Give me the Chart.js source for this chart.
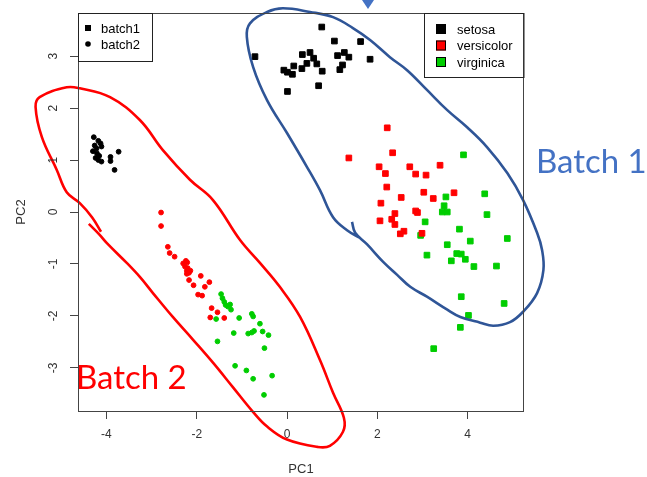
<!DOCTYPE html>
<html>
<head>
<meta charset="utf-8">
<script src="https://cdn.jsdelivr.net/npm/chart.js@4.4.1/dist/chart.umd.min.js"></script>
<style>
  html, body { margin: 0; padding: 0; background: #fff; }
</style>
</head>
<body>
<canvas id="pcaChart" width="647" height="477"></canvas>
<script>
// tick labels
let xTicks = [-4, -2, 0, 2, 4];
let yTicks = [-3, -2, -1, 0, 1, 2, 3];

// legend texts
let batchNames = ['batch1', 'batch2'];
let speciesNames = ['setosa', 'versicolor', 'virginica'];

// batch 1 (squares)  [PC1, PC2]
let b1Setosa = [[0.77,3.56],[1.05,3.29],[1.63,3.28],[-0.71,2.99],[0.34,3.03],[0.51,3.07],[0.59,2.96],[0.44,2.86],
  [0.66,2.85],[0.33,2.76],[0.15,2.81],[-0.07,2.73],[0.01,2.69],[0.12,2.65],[0.78,2.71],[0.70,2.43],[0.01,2.32],
  [1.12,3.01],[1.27,3.07],[1.37,2.98],[1.23,2.83],[1.17,2.74],[1.84,2.94]];
let b1Versicolor = [[2.22,1.62],[1.37,1.04],[2.34,1.14],[2.04,0.87],[2.18,0.74],[2.72,0.87],[2.85,0.73],[3.08,0.71],
  [3.39,0.90],[2.21,0.48],[2.53,0.28],[2.08,0.17],[3.03,0.38],[3.24,0.26],[3.70,0.37],[2.39,-0.03],[2.85,0.02],
  [2.89,-0.01],[2.06,-0.17],[2.32,-0.14],[2.39,-0.24],[2.51,-0.42],[2.59,-0.37],[2.99,-0.41]];
let b1Virginica = [[3.91,1.10],[3.52,0.29],[3.48,0.12],[3.44,0.0],[3.55,0.0],[4.38,0.35],[4.43,-0.05],[3.06,-0.19],
  [3.82,-0.33],[2.96,-0.45],[4.06,-0.56],[4.88,-0.51],[3.55,-0.63],[3.10,-0.83],[3.76,-0.80],[3.86,-0.81],
  [3.64,-0.94],[3.95,-0.91],[4.14,-1.05],[4.64,-1.04],[3.86,-1.63],[4.81,-1.76],[4.02,-1.99],[3.84,-2.22],[3.25,-2.63]];

// batch 2 (dots)
let b2Setosa = [[-4.28,1.44],[-4.18,1.37],[-4.13,1.32],[-4.11,1.26],[-4.26,1.28],[-4.22,1.22],[-4.30,1.17],
  [-4.21,1.13],[-4.24,1.04],[-4.18,1.00],[-4.11,0.97],[-3.91,1.06],[-3.91,0.98],[-3.73,1.16],[-3.82,0.81],[-4.16,1.08]];
let b2Versicolor = [[-2.79,-0.01],[-2.79,-0.27],[-2.64,-0.67],[-2.60,-0.79],[-2.49,-0.86],[-2.30,-0.99],[-2.24,-0.94],
  [-2.21,-0.97],[-2.26,-1.05],[-2.20,-1.08],[-2.22,-1.13],[-2.14,-1.13],[-2.22,-1.19],[-2.17,-1.17],[-1.91,-1.23],
  [-2.17,-1.31],[-2.07,-1.41],[-1.72,-1.35],[-1.82,-1.44],[-1.97,-1.59],[-1.88,-1.61],[-1.67,-1.85],[-1.54,-1.93],
  [-1.70,-2.03],[-1.39,-2.04]];
let b2Virginica = [[-1.46,-1.58],[-1.43,-1.66],[-1.39,-1.73],[-1.36,-1.79],[-1.31,-1.82],[-1.26,-1.78],[-1.24,-1.88],
  [-1.57,-2.06],[-1.06,-2.04],[-0.78,-1.96],[-0.75,-2.01],[-0.60,-2.15],[-1.18,-2.33],[-0.86,-2.34],[-0.78,-2.32],
  [-0.73,-2.29],[-0.54,-2.30],[-0.41,-2.37],[-0.50,-2.62],[-1.54,-2.49],[-1.15,-2.96],[-0.90,-3.05],[-0.75,-3.21],
  [-0.33,-3.15],[-0.51,-3.52]];

// hand drawn outlines round each batch (data units)
let batch2Outline = [[-4.39,-0.23],[-4.15,-0.44],[-3.99,-0.60],[-3.55,-0.98],[-3.26,-1.25],[-2.97,-1.56],[-2.53,-2.02],
  [-2.08,-2.46],[-1.64,-2.90],[-1.20,-3.37],[-0.75,-3.85],[-0.44,-4.13],[0.00,-4.38],[0.67,-4.52],[0.95,-4.50],
  [1.24,-4.23],[1.26,-3.96],[1.02,-3.48],[0.73,-2.85],[0.29,-2.02],[-0.16,-1.44],[-0.60,-0.98],[-1.04,-0.54],
  [-1.64,0.23],[-2.15,0.62],[-2.75,1.19],[-3.26,1.77],[-3.92,2.21],[-4.59,2.38],[-4.88,2.40],[-5.48,2.21],
  [-5.57,2.02],[-5.43,1.44],[-5.10,0.81],[-4.88,0.38],[-4.59,0.17],[-4.32,-0.10],[-4.12,-0.38]];
let batch1Outline = [[1.44,-0.19],[1.51,-0.40],[1.77,-0.62],[2.13,-0.96],[2.44,-1.21],[2.73,-1.44],[3.10,-1.63],
  [3.55,-1.88],[3.84,-2.02],[4.28,-2.13],[4.57,-2.19],[4.94,-2.12],[5.23,-1.92],[5.54,-1.56],[5.68,-1.12],
  [5.65,-0.73],[5.54,-0.40],[5.23,0.23],[4.88,0.75],[4.43,1.25],[3.99,1.63],[3.55,1.96],[3.10,2.35],[2.66,2.73],
  [2.28,2.98],[1.84,3.31],[1.46,3.54],[1.02,3.75],[0.51,3.85],[-0.09,3.92],[-0.44,3.85],[-0.82,3.63],[-0.89,3.37],
  [-0.75,2.79],[-0.44,2.15],[0.00,1.52],[0.44,0.87],[0.73,0.42],[1.02,-0.10],[1.33,-0.35],[1.62,-0.50]];

const FONT = '"Liberation Sans", Arial, sans-serif';
const GREEN = '#00CD00';
const BLUE_TXT = '#4472C4';

function toXY(arr) {
  return arr.map(p => ({ x: p[0], y: p[1] }));
}

function squares(arr, color) {
  return { data: toXY(arr), pointStyle: 'rect', pointRadius: 4, backgroundColor: color, borderColor: color, borderWidth: 1 };
}
function dots(arr, color) {
  return { data: toXY(arr), pointStyle: 'circle', pointRadius: 2.4, backgroundColor: color, borderColor: color, borderWidth: 1 };
}
function outline(arr, color) {
  return { data: toXY(arr), showLine: true, pointRadius: 0, borderColor: color, borderWidth: 2.6,
    tension: 0.4, fill: false, clip: false };
}

// extra drawing: box, rotated y labels, legends, notes
const extras = {
  id: 'extras',
  afterDraw(chart) {
    const ctx = chart.ctx;
    const a = chart.chartArea;
    const ys = chart.scales.y;
    ctx.save();

    ctx.strokeStyle = '#444';
    ctx.lineWidth = 1;
    ctx.strokeRect(a.left + 0.5, a.top + 0.5, a.right - a.left - 1, a.bottom - a.top);

    // y tick labels, R style
    ctx.fillStyle = '#333';
    ctx.font = '12px ' + FONT;
    ctx.textAlign = 'center';
    ctx.textBaseline = 'middle';
    yTicks.forEach(v => {
      ctx.save();
      ctx.translate(54, ys.getPixelForValue(v));
      ctx.rotate(-Math.PI / 2);
      ctx.fillText(String(v), 0, 0);
      ctx.restore();
    });

    // batch legend
    ctx.strokeStyle = '#222';
    ctx.strokeRect(a.left + 0.5, a.top + 0.5, 74, 48);
    ctx.fillStyle = '#000';
    ctx.fillRect(85, 25, 6, 6);
    ctx.beginPath();
    ctx.arc(88, 44, 2.8, 0, Math.PI * 2);
    ctx.fill();
    ctx.font = '13px ' + FONT;
    ctx.textAlign = 'left';
    ctx.fillText(batchNames[0], 101, 29);
    ctx.fillText(batchNames[1], 101, 45);

    // species legend
    ctx.strokeRect(424.5, a.top + 0.5, 99.5, 64);
    const cols = ['#000', '#FF0000', GREEN];
    speciesNames.forEach((n, i) => {
      const y = 29 + i * 16.5;
      ctx.fillStyle = cols[i];
      ctx.fillRect(436, y - 5, 10, 10);
      ctx.strokeStyle = '#000';
      ctx.strokeRect(436.5, y - 4.5, 9, 9);
      ctx.fillStyle = '#000';
      ctx.fillText(n, 457, y + 1);
    });

    // notes
    ctx.textBaseline = 'alphabetic';
    ctx.font = '33px Lato, "Open Sans", sans-serif';
    ctx.fillStyle = '#FF0000';
    ctx.fillText('Batch 2', 76, 389);
    ctx.fillStyle = BLUE_TXT;
    ctx.fillText('Batch 1', 536, 173);

    // arrow tip at the top
    ctx.beginPath();
    ctx.moveTo(362, 0);
    ctx.lineTo(374, 0);
    ctx.lineTo(368, 9);
    ctx.closePath();
    ctx.fill();

    ctx.restore();
  }
};

let ctxWindow = document.getElementById('pcaChart');

const myChart = new Chart(ctxWindow, {
  type: 'scatter',
  data: {
    datasets: [
      outline(batch1Outline, '#2F5597'),
      outline(batch2Outline, '#FF0000'),
      squares(b1Setosa, '#000'),
      squares(b1Versicolor, '#FF0000'),
      squares(b1Virginica, GREEN),
      dots(b2Setosa, '#000'),
      dots(b2Versicolor, '#FF0000'),
      dots(b2Virginica, GREEN)
    ]
  },
  options: {
    responsive: false,
    animation: false,
    devicePixelRatio: 1,
    events: [],
    layout: { padding: { left: 14, right: 123, top: 13, bottom: 0 } },
    plugins: { legend: { display: false }, tooltip: { enabled: false } },
    scales: {
      x: {
        type: 'linear',
        min: -4.63,
        max: 5.25,
        afterBuildTicks: s => { s.ticks = xTicks.map(v => ({ value: v })); },
        afterFit: s => { s.height = 66; },
        border: { display: false },
        grid: { drawOnChartArea: false, drawTicks: true, tickLength: 8, color: '#444' },
        ticks: { color: '#333', padding: 8, font: { family: FONT, size: 12 } },
        title: { display: true, text: 'PC1', color: '#333', padding: 0, font: { family: FONT, size: 13 } }
      },
      y: {
        type: 'linear',
        min: -3.83,
        max: 3.83,
        afterBuildTicks: s => { s.ticks = yTicks.map(v => ({ value: v })); },
        afterFit: s => { s.width = 64; },
        border: { display: false },
        grid: { drawOnChartArea: false, drawTicks: true, tickLength: 8, color: '#444' },
        ticks: { display: false },
        title: { display: true, text: 'PC2', color: '#333', padding: 0, font: { family: FONT, size: 13 } }
      }
    }
  },
  plugins: [extras]
});
</script>
</body>
</html>
